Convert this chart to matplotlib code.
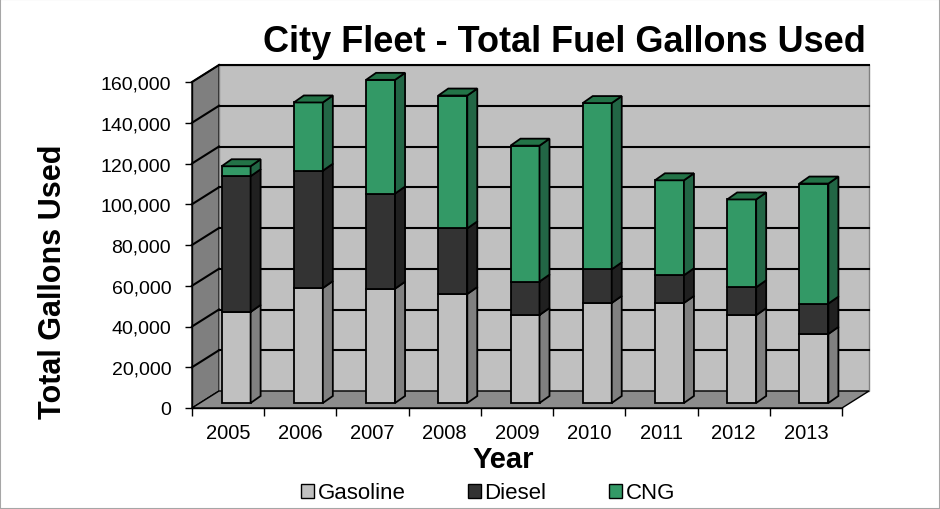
import numpy as np
import matplotlib.pyplot as plt
from matplotlib.patches import Polygon, Patch, Rectangle

plt.rcParams['font.family'] = ['Liberation Sans', 'DejaVu Sans']

years = ['2005', '2006', '2007', '2008', '2009', '2010', '2011', '2012', '2013']
gasoline = [44700, 56400, 56100, 53500, 43200, 49100, 49100, 43100, 33900]
diesel = [66600, 57600, 46700, 32200, 16400, 16500, 13600, 13700, 14900]
cng = [4900, 33500, 55800, 65200, 66700, 81600, 46600, 43100, 58900]

series = [
    ('Gasoline', gasoline, '#c0c0c0', '#808080', '#a0a0a0'),
    ('Diesel', diesel, '#333333', '#202020', '#282828'),
    ('CNG', cng, '#339966', '#226645', '#237347'),
]

fig = plt.figure(figsize=(9.4, 5.1), dpi=100)
# axes = front plane of the 3d box
ax = fig.add_axes([192 / 940, 101 / 510, 650 / 940, 326 / 510])
ax.set_xlim(-0.5, len(years) - 0.5)
ax.set_ylim(0, 160000)
ax.patch.set_visible(False)

xpx = 650 / len(years)   # pixels per category
ypx = 326 / 160000       # pixels per gallon


def off(dx, dy):
    # pixel offsets -> data units
    return dx / xpx, dy / ypx


wdx, wdy = off(27, 17)   # wall depth
bsx, bsy = off(8, 5)     # bar front shift
bdx, bdy = off(10, 7)    # bar depth
bw = 29 / xpx

x0, x1 = -0.5, len(years) - 0.5
ticks = np.arange(0, 160001, 20000)

# left wall
ax.add_patch(Polygon([(x0, 0), (x0 + wdx, wdy), (x0 + wdx, 160000 + wdy), (x0, 160000)],
                     closed=True, fc='#7f7f7f', ec='k', lw=1, clip_on=False, zorder=1))
# back wall
ax.add_patch(Rectangle((x0 + wdx, wdy), x1 - x0, 160000, fc='#c0c0c0', ec='#808080', lw=1,
                       clip_on=False, zorder=1))
for v in ticks[1:]:
    ax.plot([x0, x0 + wdx], [v, v + wdy], color='k', lw=1.5, clip_on=False, zorder=2)
    ax.plot([x0 + wdx, x1 + wdx], [v + wdy, v + wdy], color='k', lw=1.5, clip_on=False, zorder=2)
# floor
ax.add_patch(Polygon([(x0, 0), (x1, 0), (x1 + wdx, wdy), (x0 + wdx, wdy)],
                     closed=True, fc='#8c8c8c', ec='k', lw=1, clip_on=False, zorder=2))

# bars
x = np.arange(len(years))
bottoms = np.zeros(len(years))
for k, (name, vals, fc, sc, tc) in enumerate(series):
    vals = np.array(vals, dtype=float)
    tops = bottoms + vals
    ax.bar(x + bsx, vals, bottom=bottoms + bsy, width=bw, color=fc, edgecolor='k',
           linewidth=1.3, clip_on=False, zorder=5)
    for i in range(len(years)):
        xr = x[i] + bsx + bw / 2
        xl = x[i] + bsx - bw / 2
        b, t = bottoms[i] + bsy, tops[i] + bsy
        ax.add_patch(Polygon([(xr, b), (xr + bdx, b + bdy), (xr + bdx, t + bdy), (xr, t)],
                             closed=True, fc=sc, ec='k', lw=1.3, clip_on=False, zorder=5))
        if k == len(series) - 1:
            ax.add_patch(Polygon([(xl, t), (xr, t), (xr + bdx, t + bdy), (xl + bdx, t + bdy)],
                                 closed=True, fc=tc, ec='k', lw=1.3, clip_on=False, zorder=5))
    bottoms = tops

# axes
for s in ['top', 'right']:
    ax.spines[s].set_visible(False)
ax.spines['left'].set_linewidth(1)
ax.spines['bottom'].set_linewidth(1)
ax.spines['left'].set_zorder(3)
ax.spines['bottom'].set_zorder(3)
ax.set_yticks(ticks)
ax.set_yticklabels([f'{v:,}' for v in ticks], fontsize=14)
ax.tick_params(axis='y', length=5, width=1, pad=10)
ax.set_xticks(x)
ax.set_xticklabels(years, fontsize=14.5)
ax.set_xticks(np.arange(x0, x1 + 0.01, 1), minor=True)
ax.tick_params(axis='x', which='major', length=0, pad=11)
ax.tick_params(axis='x', which='minor', length=6, width=1)

fig.text(564 / 940, 1 - 52 / 510, 'City Fleet - Total Fuel Gallons Used', fontsize=26,
         fontweight='bold', ha='center', va='baseline')
fig.text(53 / 940, 1 - 282 / 510, 'Total Gallons Used', fontsize=22, fontweight='bold',
         rotation=90, ha='center', va='center')
fig.text(503 / 940, 1 - 468 / 510, 'Year', fontsize=21, fontweight='bold',
         ha='center', va='baseline')

handles = [Patch(fc=fc, ec='k', lw=1) for _, _, fc, _, _ in series]
fig.legend(handles, [s[0] for s in series], loc='center', bbox_to_anchor=(488 / 940, 1 - 494 / 510),
           ncol=3, frameon=False, fontsize=16, handlelength=0.6, handleheight=0.6,
           handletextpad=0.15, columnspacing=2.8, borderpad=0)

fig.patches.append(Rectangle((0, 0), 1, 1, transform=fig.transFigure, fill=False,
                             ec='#a6a6a6', lw=1.5))

fig.savefig('out.png', dpi=100)
